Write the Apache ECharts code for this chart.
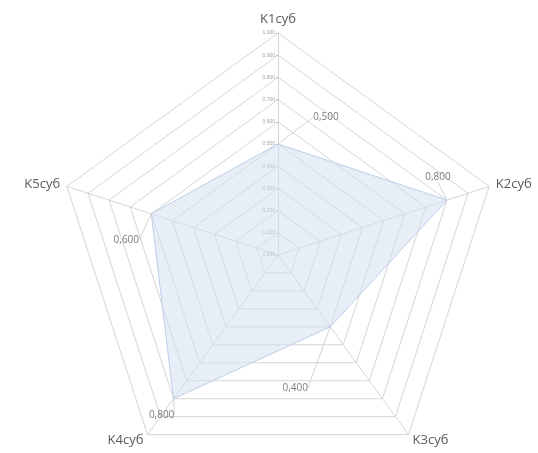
<!DOCTYPE html>
<html><head><meta charset="utf-8">
<script src="https://cdn.jsdelivr.net/npm/echarts@6/dist/echarts.min.js"></script>
<style>html,body{margin:0;padding:0;background:#fff}#c{width:538px;height:453px}</style>
</head><body><div id="c"></div>
<script>
// Data (display order, clockwise from top)
var categories = ['K1суб', 'K2суб', 'K3суб', 'K4суб', 'K5суб'];
var values = [0.5, 0.8, 0.4, 0.8, 0.6];
var ringTicks = [0, 0.1, 0.2, 0.3, 0.4, 0.5, 0.6, 0.7, 0.8, 0.9, 1.0];
var axisMax = 1.0;

function fmt(v) { return v.toFixed(3).replace('.', ','); }

// ECharts radar runs counter-clockwise: reorder so K2 lands on the right
var order = [0, 4, 3, 2, 1];
var indicators = order.map(function (i) { return { name: categories[i], min: 0, max: axisMax }; });
var radarValues = order.map(function (i) { return values[i]; });

// label offsets (style only)
var labelShift = [[48, -27], [-9, -23], [-35, 61], [-12, 16], [-25, 26]];

var center = [278, 255];
var radius = 222;
var chart = echarts.init(document.getElementById('c'), null, { renderer: 'canvas' });
chart.setOption({
  animation: false,
  backgroundColor: '#fff',
  radar: {
    center: center,
    radius: radius,
    startAngle: 90,
    splitNumber: ringTicks.length - 1,
    shape: 'polygon',
    indicator: indicators,
    nameGap: 7,
    axisName: { color: '#595959', fontSize: 13, fontFamily: 'Open Sans' },
    splitLine: { lineStyle: { color: '#d6d6d6', width: 1 } },
    splitArea: { show: false },
    axisLine: { lineStyle: { color: '#d6d6d6', width: 1 } },
    axisLabel: { show: false },
    axisTick: { show: false }
  },
  polar: { center: center, radius: radius },
  angleAxis: {
    type: 'category', data: categories, startAngle: 90, boundaryGap: false,
    axisLine: { show: false }, axisTick: { show: false }, axisLabel: { show: false },
    splitLine: { show: false }
  },
  radiusAxis: {
    type: 'value', min: 0, max: axisMax, interval: 0.1,
    axisLine: { show: true, lineStyle: { color: '#b8b8b8', width: 1 } },
    axisTick: { show: true, length: 2, lineStyle: { color: '#b8b8b8' } },
    axisLabel: { show: true, fontSize: 5, color: '#a0a0a0', margin: 3,
      formatter: function (v) { return fmt(v); } },
    splitLine: { show: false }
  },
  series: [
    {
      type: 'radar',
      symbol: 'none',
      lineStyle: { color: '#b4c7e7', width: 1 },
      areaStyle: { color: '#d3e0f3', opacity: 0.55 },
      data: [{ value: radarValues, name: 'K' }],
      z: 1
    },
    {
      type: 'scatter',
      coordinateSystem: 'polar',
      symbolSize: 1,
      itemStyle: { color: 'rgba(0,0,0,0)' },
      data: values.map(function (v, i) { return [v, categories[i]]; }),
      label: { show: true, position: 'inside', color: '#595959', fontSize: 10, fontFamily: 'Open Sans',
        formatter: function (p) { return fmt(p.value[0]); } },
      labelLine: { show: true, lineStyle: { color: '#c8c8c8', width: 0.8 } },
      labelLayout: function (p) { var s = labelShift[p.dataIndex]; return { dx: s[0], dy: s[1] }; },
      z: 5
    }
  ]
});
</script></body></html>
